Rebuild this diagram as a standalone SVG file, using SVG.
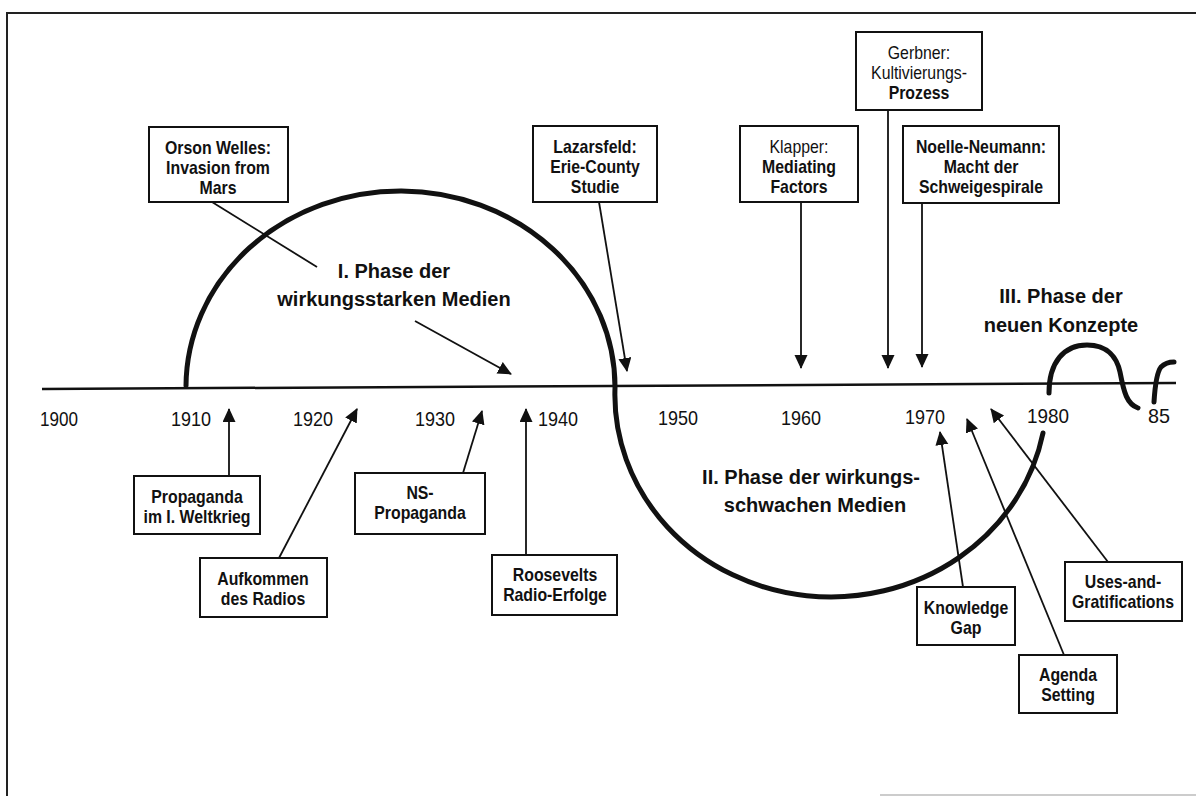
<svg xmlns="http://www.w3.org/2000/svg" width="1196" height="796" viewBox="0 0 1196 796">
  <style>
    .frame { fill: none; stroke: #222; stroke-width: 2; }
    .box rect { fill: #fff; stroke: #111; stroke-width: 2; }
    .box text { font-family: "Liberation Sans", Arial, sans-serif; font-size: 18px; font-weight: bold; fill: #111; text-anchor: middle; }
    .box text.lt { font-weight: normal; }
    .year { font-family: "Liberation Sans", Arial, sans-serif; font-size: 21px; fill: #111; text-anchor: middle; }
    .phase { font-family: "Liberation Sans", Arial, sans-serif; font-size: 20px; font-weight: bold; fill: #111; text-anchor: middle; }
    .axis { stroke: #111; stroke-width: 2.5; fill: none; }
    .curve { stroke: #111; stroke-width: 5; fill: none; stroke-linecap: round; }
    .conn line { stroke: #111; stroke-width: 1.8; }
    .conn .arr { marker-end: url(#tip); }
  </style>
  <defs>
    <marker id="tip" markerUnits="userSpaceOnUse" markerWidth="14" markerHeight="14" refX="13" refY="6.5" orient="auto">
      <path d="M0,0 L14,6.5 L0,13 z" fill="#111"/>
    </marker>
  </defs>

  <rect width="1196" height="796" fill="#fff"/>

  <!-- page frame -->
  <path class="frame" d="M7,796 L7,13 L1196,13"/>
  <line x1="880" y1="795" x2="1196" y2="795" stroke="#bbb" stroke-width="1.5"/>

  <!-- time axis -->
  <line class="axis" x1="42" y1="389" x2="1176" y2="383"/>

  <!-- year labels -->
  <g id="years">
    <text class="year" x="59" y="426" textLength="38" lengthAdjust="spacingAndGlyphs">1900</text>
    <text class="year" x="191" y="426" textLength="40" lengthAdjust="spacingAndGlyphs">1910</text>
    <text class="year" x="313" y="426" textLength="40" lengthAdjust="spacingAndGlyphs">1920</text>
    <text class="year" x="435" y="426" textLength="40" lengthAdjust="spacingAndGlyphs">1930</text>
    <text class="year" x="558" y="426" textLength="40" lengthAdjust="spacingAndGlyphs">1940</text>
    <text class="year" x="678" y="425" textLength="40" lengthAdjust="spacingAndGlyphs">1950</text>
    <text class="year" x="801" y="425" textLength="40" lengthAdjust="spacingAndGlyphs">1960</text>
    <text class="year" x="925" y="424" textLength="40" lengthAdjust="spacingAndGlyphs">1970</text>
    <text class="year" x="1048" y="423" textLength="42" lengthAdjust="spacingAndGlyphs">1980</text>
    <text class="year" x="1159" y="423" textLength="22" lengthAdjust="spacingAndGlyphs">85</text>
  </g>

  <!-- effect curves of the three phases -->
  <g id="phase-curves">
    <path class="curve" d="M186,386 A214.5,196 0 0 1 615,388 A216,202 0 0 0 1043,433"/>
    <path class="curve" d="M1049,393 C1049,362 1064,345 1087,345 C1108,345 1117,358 1120,372 C1124,393 1127,404 1138,408"/>
    <path class="curve" d="M1154,402 C1155,386 1157,372 1161,367 C1165,363 1169,362 1174,362"/>
  </g>

  <!-- phase labels -->
  <g id="phase-1">
    <text class="phase" x="394" y="278">I. Phase der</text>
    <text class="phase" x="394" y="306">wirkungsstarken Medien</text>
  </g>
  <g id="phase-2">
    <text class="phase" x="811" y="484">II. Phase der wirkungs-</text>
    <text class="phase" x="815" y="512">schwachen Medien</text>
  </g>
  <g id="phase-3">
    <text class="phase" x="1061" y="303">III. Phase der</text>
    <text class="phase" x="1061" y="332">neuen Konzepte</text>
  </g>

  <!-- connectors -->
  <g id="connectors" class="conn">
    <line x1="212" y1="202" x2="317" y2="267"/>
    <line class="arr" x1="415" y1="321" x2="511" y2="374"/>
    <line class="arr" x1="599" y1="202" x2="627" y2="371"/>
    <line class="arr" x1="801" y1="202" x2="801" y2="368"/>
    <line class="arr" x1="888" y1="110" x2="888" y2="368"/>
    <line class="arr" x1="922" y1="203" x2="922" y2="367"/>
    <line class="arr" x1="229" y1="476" x2="229" y2="409"/>
    <line class="arr" x1="279" y1="558" x2="357" y2="409"/>
    <line class="arr" x1="463" y1="473" x2="482" y2="411"/>
    <line class="arr" x1="526" y1="555" x2="526" y2="409"/>
    <line class="arr" x1="963" y1="587" x2="940" y2="432"/>
    <line class="arr" x1="1064" y1="655" x2="967" y2="419"/>
    <line class="arr" x1="1108" y1="562" x2="991" y2="409"/>
  </g>

  <!-- event boxes above the axis (text set narrow) -->
  <g id="orson-welles" class="box">
    <rect x="149" y="127" width="139" height="75"/>
    <g transform="translate(218 0) scale(0.88 1)">
      <text x="0" y="154">Orson Welles:</text>
      <text x="0" y="174">Invasion from</text>
      <text x="0" y="194">Mars</text>
    </g>
  </g>
  <g id="lazarsfeld" class="box">
    <rect x="533" y="126" width="124" height="76"/>
    <g transform="translate(595 0) scale(0.88 1)">
      <text x="0" y="153">Lazarsfeld:</text>
      <text x="0" y="173">Erie-County</text>
      <text x="0" y="193">Studie</text>
    </g>
  </g>
  <g id="klapper" class="box">
    <rect x="740" y="126" width="118" height="76"/>
    <g transform="translate(799 0) scale(0.88 1)">
      <text class="lt" x="0" y="153">Klapper:</text>
      <text x="0" y="173">Mediating</text>
      <text x="0" y="193">Factors</text>
    </g>
  </g>
  <g id="gerbner" class="box">
    <rect x="856" y="32" width="126" height="78"/>
    <g transform="translate(919 0) scale(0.88 1)">
      <text class="lt" x="0" y="59">Gerbner:</text>
      <text class="lt" x="0" y="79">Kultivierungs-</text>
      <text x="0" y="99">Prozess</text>
    </g>
  </g>
  <g id="noelle-neumann" class="box">
    <rect x="903" y="126" width="156" height="77"/>
    <g transform="translate(981 0) scale(0.88 1)">
      <text x="0" y="153">Noelle-Neumann:</text>
      <text x="0" y="173">Macht der</text>
      <text x="0" y="193">Schweigespirale</text>
    </g>
  </g>

  <!-- event boxes below the axis -->
  <g id="propaganda-weltkrieg" class="box">
    <rect x="134" y="476" width="126" height="58"/>
    <g transform="translate(197 0) scale(0.88 1)">
      <text x="0" y="503">Propaganda</text>
      <text x="0" y="523">im I. Weltkrieg</text>
    </g>
  </g>
  <g id="aufkommen-radio" class="box">
    <rect x="200" y="558" width="127" height="59"/>
    <g transform="translate(263 0) scale(0.88 1)">
      <text x="0" y="585">Aufkommen</text>
      <text x="0" y="605">des Radios</text>
    </g>
  </g>
  <g id="ns-propaganda" class="box">
    <rect x="355" y="473" width="130" height="61"/>
    <g transform="translate(420 0) scale(0.88 1)">
      <text x="0" y="499">NS-</text>
      <text x="0" y="519">Propaganda</text>
    </g>
  </g>
  <g id="roosevelt" class="box">
    <rect x="492" y="555" width="125" height="60"/>
    <g transform="translate(555 0) scale(0.88 1)">
      <text x="0" y="581">Roosevelts</text>
      <text x="0" y="601">Radio-Erfolge</text>
    </g>
  </g>
  <g id="knowledge-gap" class="box">
    <rect x="917" y="587" width="98" height="58"/>
    <g transform="translate(966 0) scale(0.88 1)">
      <text x="0" y="614">Knowledge</text>
      <text x="0" y="634">Gap</text>
    </g>
  </g>
  <g id="agenda-setting" class="box">
    <rect x="1019" y="655" width="98" height="58"/>
    <g transform="translate(1068 0) scale(0.88 1)">
      <text x="0" y="681">Agenda</text>
      <text x="0" y="701">Setting</text>
    </g>
  </g>
  <g id="uses-gratifications" class="box">
    <rect x="1065" y="562" width="117" height="59"/>
    <g transform="translate(1123 0) scale(0.88 1)">
      <text x="0" y="588">Uses-and-</text>
      <text x="0" y="608">Gratifications</text>
    </g>
  </g>
</svg>
